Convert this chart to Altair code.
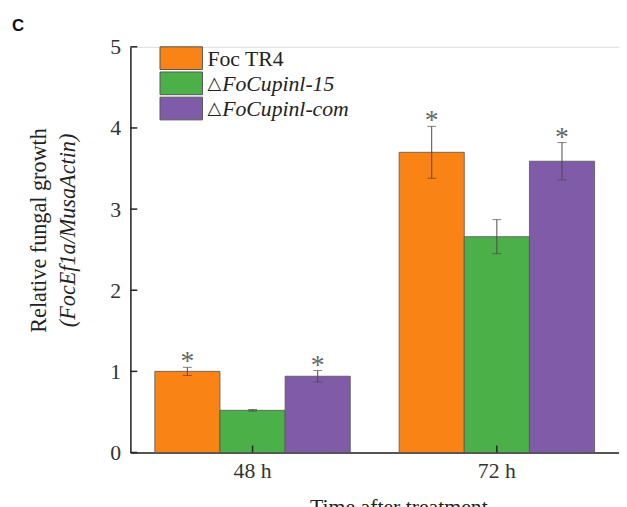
import altair as alt
import pandas as pd

# ---- data ----
times = ["48 h", "72 h"]
series = ["Foc TR4", "FoCupinl-15", "FoCupinl-com"]
prefix = ["", "△", "△"]
italic = [False, True, True]
means_48 = [1.00, 0.52, 0.94]
means_72 = [3.70, 2.66, 3.59]
err_48 = [0.05, 0.01, 0.07]
err_72 = [0.32, 0.21, 0.23]
sig_48 = ["*", "", "*"]
sig_72 = ["*", "", "*"]
colors = ["#F98314", "#4BB048", "#805CA8"]
y_ticks = [0, 1, 2, 3, 4, 5]

rows = []
for t, means, errs, sigs in [(times[0], means_48, err_48, sig_48), (times[1], means_72, err_72, sig_72)]:
    for s, m, e, g in zip(series, means, errs, sigs):
        rows.append({"time": t, "series": s, "mean": m, "lo": m - e, "hi": m + e, "star": g})
df = pd.DataFrame(rows)

W, H = 495, 411
SERIF = "Liberation Serif"
AX = "#222222"

yaxis = alt.Axis(values=y_ticks, title=None, ticks=False, tickSize=0, grid=False,
                 labelFont=SERIF, labelFontSize=22, labelColor="#333333", labelPadding=10,
                 domainColor=AX, domainWidth=1.5, format="d")
yscale = alt.Scale(domain=[0, 5], nice=False, zero=True)
xaxis = alt.Axis(title=None, labelAngle=0, labelFont=SERIF, labelFontSize=22, labelColor="#333333",
                 ticks=False, tickSize=0, domainColor=AX, domainWidth=1.5, labelPadding=8)
xscale = alt.Scale(domain=times, paddingInner=0.2, paddingOuter=0.1)
X = alt.X("time:N", scale=xscale, axis=xaxis)
XO = alt.XOffset("series:N", sort=series, scale=alt.Scale(domain=series, paddingInner=0, paddingOuter=0))

base = alt.Chart(df)
bars = base.mark_bar(stroke="#555555", strokeWidth=0.8).encode(
    x=X, xOffset=XO,
    y=alt.Y("mean:Q", scale=yscale, axis=yaxis),
    color=alt.Color("series:N", scale=alt.Scale(domain=series, range=colors), legend=None),
)
err = base.mark_rule(color="#4a4a4a", strokeWidth=1).encode(
    x=X, xOffset=XO, y=alt.Y("lo:Q", scale=yscale, axis=yaxis), y2="hi:Q")
cap_hi = base.mark_tick(color="#4a4a4a", size=9, thickness=1).encode(
    x=X, xOffset=XO, y=alt.Y("hi:Q", scale=yscale, axis=yaxis))
cap_lo = base.mark_tick(color="#4a4a4a", size=9, thickness=1).encode(
    x=X, xOffset=XO, y=alt.Y("lo:Q", scale=yscale, axis=yaxis))
stars = base.transform_filter("datum.star != ''").mark_text(
    font=SERIF, fontSize=28, color="#666666", baseline="alphabetic", dy=3).encode(
    x=X, xOffset=XO, y=alt.Y("hi:Q", scale=yscale, axis=yaxis), text="star:N")

# inward axis ticks
yt = alt.Chart(pd.DataFrame({"v": y_ticks})).mark_rule(color=AX, strokeWidth=1.5).encode(
    y=alt.Y("v:Q", scale=yscale, axis=yaxis), x=alt.value(0), x2=alt.value(7))
xt = alt.Chart(pd.DataFrame({"time": times})).mark_rule(color=AX, strokeWidth=1.5).encode(
    x=X, y=alt.value(H), y2=alt.value(H - 7))

# legend (manual, to allow mixed roman / italic labels)
legend_layers = []
for i, s in enumerate(series):
    d = pd.DataFrame({"series": [s]})
    y0 = 0 + i * 25.5
    legend_layers.append(alt.Chart(d).mark_rect(stroke="#555555", strokeWidth=1, color=colors[i]).encode(
        x=alt.value(30), x2=alt.value(73), y=alt.value(y0), y2=alt.value(y0 + 23)))
    xpos = 78
    if prefix[i]:
        legend_layers.append(alt.Chart(d).mark_text(
            text=prefix[i], font="DejaVu Sans", fontSize=18, color="#222222", align="left", baseline="middle").encode(
            x=alt.value(xpos), y=alt.value(y0 + 12)))
        xpos = 93
    legend_layers.append(alt.Chart(d).mark_text(
        font=SERIF, fontSize=22, color="#222222", align="left", baseline="middle",
        fontStyle="italic" if italic[i] else "normal").encode(
        x=alt.value(xpos), y=alt.value(y0 + 12), text="series:N"))

# titles
one = pd.DataFrame({"k": [0]})
ytitle1 = alt.Chart(one).mark_text(text="Relative fungal growth", font=SERIF, fontSize=22.5,
                                   angle=270, color="#222222", baseline="middle").encode(
    x=alt.value(-92), y=alt.value(186))
ytitle2 = alt.Chart(one).mark_text(text="(FocEf1a/MusaActin)", font=SERIF, fontSize=22.5, fontStyle="italic",
                                   angle=270, color="#222222", baseline="middle").encode(
    x=alt.value(-63), y=alt.value(186))
xtitle = alt.Chart(one).mark_text(text="Time after treatment", font=SERIF, fontSize=22,
                                  color="#222222", baseline="alphabetic").encode(
    x=alt.value(272), y=alt.value(473))
panel = alt.Chart(one).mark_text(text="C", font="Liberation Sans", fontWeight="bold", fontSize=17,
                                 color="#111111", align="left", baseline="middle").encode(
    x=alt.value(-120), y=alt.value(-21))

chart = alt.layer(bars, err, cap_hi, cap_lo, stars, yt, xt, *legend_layers,
                  ytitle1, ytitle2, xtitle, panel).properties(
    width=W, height=H,
    autosize=alt.AutoSizeParams(type="none"),
    padding={"left": 124, "top": 36, "right": 0, "bottom": 62},
).configure_view(stroke=None).configure(background="white")

chart.save("out.html", embed_options={"renderer": "svg", "actions": False})
